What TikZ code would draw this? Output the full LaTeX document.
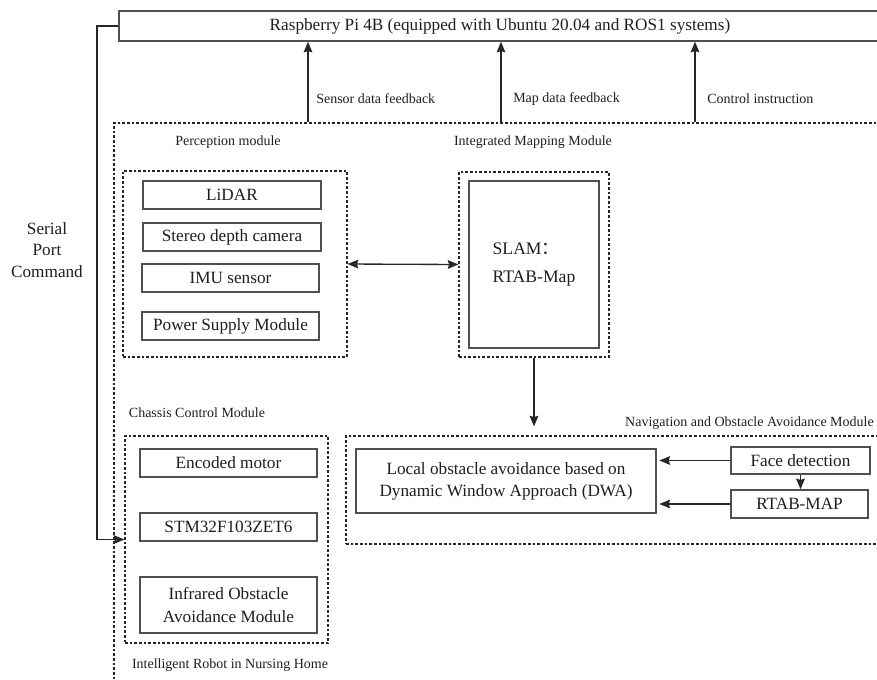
\documentclass[tikz,border=0pt]{standalone}
\usepackage{fontspec}
\setmainfont{Liberation Serif}
\newfontfamily\cjkfont{Noto Sans CJK SC}
\usetikzlibrary{arrows.meta,fit,calc}
\definecolor{linegray}{HTML}{505050}
\definecolor{textdark}{HTML}{1E1E1E}
\begin{document}
\begin{tikzpicture}[x=0.75pt,y=-0.75pt,
  box/.style={draw=linegray, line width=1.05pt, inner sep=0pt, align=center,
    font=\fontsize{12.9}{16.5}\selectfont, text=textdark},
  sz/.style 2 args={minimum width=#1*0.75pt, minimum height=#2*0.75pt},
  group/.style={draw=black!85, line width=0.85pt, dash pattern=on 2pt off 1.5pt, inner sep=0pt},
  lbl/.style={font=\fontsize{10.5}{13}\selectfont, text=textdark, inner sep=0pt},
  arr/.style={draw=black!85, line width=1pt, -{Stealth[length=8pt,width=6.5pt,inset=1pt]}},
  biarr/.style={draw=black!85, line width=1pt, {Stealth[length=8pt,width=6.5pt,inset=1pt]}-{Stealth[length=8pt,width=6.5pt,inset=1pt]}}
]
\useasboundingbox (0,0) rectangle (877,679);
\clip (0,0) rectangle (877,679);

% top computer
\node[box, sz={762}{30}] (rpi) at (500,26) {Raspberry Pi 4B (equipped with Ubuntu 20.04 and ROS1 systems)};

% outer robot frame
\node[group, fit={(114,123) (920,720)}] (robot) {};

% perception module
\node[group, fit={(123,171) (347,357)}] (perc) {};
\node[box, sz={178}{28}] (lidar) at (232,195) {LiDAR};
\node[box, sz={178}{28}] (stereo) at (232,237) {Stereo depth camera};
\node[box, sz={177}{28}] (imu) at (230.5,278) {IMU sensor};
\node[box, sz={177}{28}] (power) at (230.5,326) {Power Supply Module};

% mapping module
\node[group, fit={(459,172) (609,357)}] (slamg) {};
\node[box, sz={130}{167}, align=left, font=\fontsize{13.2}{21}\selectfont] (slam) at (534,264.5) {SLAM{\cjkfont ：}\\RTAB-Map};

% chassis module
\node[group, fit={(125,436) (328,643)}] (chassis) {};
\node[box, sz={177}{28}] (motor) at (228.5,463) {Encoded motor};
\node[box, sz={177}{28}] (stm) at (228.5,527) {STM32F103ZET6};
\node[box, sz={177}{56}, font=\fontsize{12.9}{17.25}\selectfont] (infra) at (228.5,605) {Infrared Obstacle\\Avoidance Module};

% navigation module
\node[group, fit={(346,436) (920,544)}] (nav) {};
\node[box, sz={300}{64}] (dwa) at (506,481) {Local obstacle avoidance based on\\Dynamic Window Approach (DWA)};
\node[box, sz={139}{27}] (face) at (800.5,460.5) {Face detection};
\node[box, sz={137}{28}] (rtab) at (799.5,504) {RTAB-MAP};

% labels
\node[lbl] (lperc) at (228,142) {Perception module};
\node[lbl] (lmap) at (533,142) {Integrated Mapping Module};
\node[lbl] (lchas) at (197,413) {Chassis Control Module};
\node[lbl] (lrobot) at (230,665) {Intelligent Robot in Nursing Home};
\node[lbl, anchor=east] (lnav) at (874,423) {Navigation and Obstacle Avoidance Module};
\node[lbl, anchor=west] (lsens) at (316,99) {Sensor data feedback};
\node[lbl, anchor=west] (lmapfb) at (513,99) {Map data feedback};
\node[lbl, anchor=west] (lctrl) at (707,99) {Control instruction};
\node[font=\fontsize{12.9}{16.1}\selectfont, align=center, text=textdark, inner sep=0pt] (serial) at (47,250) {Serial\\Port\\Command};

% connectors
\coordinate (xs) at (308,0);
\coordinate (xm) at (501,0);
\coordinate (xc) at (695,0);
\draw[arr] (xs |- robot.north) -- (xs |- rpi.south);
\draw[arr] (xm |- robot.north) -- (xm |- rpi.south);
\draw[arr] (xc |- robot.north) -- (xc |- rpi.south);

\draw[biarr] (perc.east) -- (slamg.west);
\draw[arr, shorten >=6.75pt] (slamg.south) -- (slamg.south |- nav.north);

\draw[arr, shorten >=2pt] (face.west) -- (face.west -| dwa.east);
\draw[arr, shorten >=2pt] (rtab.west) -- (rtab.west -| dwa.east);
\draw[arr] (face.south) -- (face.south |- rtab.north);

\coordinate (sx) at (97,0);
\draw[arr] (rpi.west) -- (sx |- rpi.west) -- (sx |- chassis.west) -- (chassis.west);
\end{tikzpicture}
\end{document}
